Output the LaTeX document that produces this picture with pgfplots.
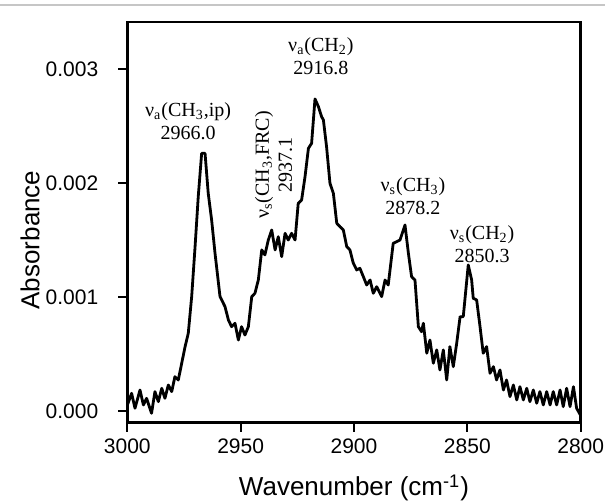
\documentclass[border=0pt]{standalone}
\usepackage{pgfplots}
\pgfplotsset{compat=1.18}
\usepackage{fontspec}
\setmainfont{Liberation Sans}
\newfontfamily\serif{Liberation Serif}

\pgfplotstableread{
x y
3000.0 0.000050
2998.1 0.000155
2996.6 0.000024
2994.4 0.000184
2992.9 0.000053
2991.5 0.000111
2989.3 -0.000020
2987.8 0.000170
2986.3 0.000082
2984.8 0.000199
2983.4 0.000111
2981.9 0.000228
2980.4 0.000170
2979.0 0.000301
2977.5 0.000272
2976.0 0.000419
2974.5 0.000565
2973.1 0.000682
2971.6 0.001004
2970.1 0.001443
2968.7 0.001882
2967.2 0.002262
2965.7 0.002262
2964.3 0.001911
2962.8 0.001677
2961.3 0.001384
2959.1 0.001004
2956.9 0.000916
2955.4 0.000799
2954.0 0.000740
2952.5 0.000770
2951.0 0.000623
2949.6 0.000740
2948.1 0.000667
2946.6 0.000740
2945.1 0.001004
2943.7 0.001033
2942.2 0.001150
2940.7 0.001414
2939.3 0.001370
2937.8 0.001501
2936.3 0.001589
2934.8 0.001414
2933.4 0.001530
2931.9 0.001355
2930.4 0.001560
2929.0 0.001501
2927.5 0.001560
2926.0 0.001501
2924.6 0.001823
2923.1 0.001853
2921.6 0.002057
2920.1 0.002306
2918.7 0.002350
2917.2 0.002740
2915.7 0.002672
2914.3 0.002584
2913.5 0.002555
2912.1 0.002320
2910.6 0.001999
2909.1 0.001911
2907.6 0.001648
2906.2 0.001618
2904.7 0.001589
2903.2 0.001443
2901.8 0.001414
2900.3 0.001297
2898.8 0.001238
2897.4 0.001253
2895.9 0.001180
2894.4 0.001106
2892.9 0.001150
2891.5 0.001033
2890.0 0.001091
2887.8 0.001004
2886.3 0.001150
2884.9 0.001106
2882.7 0.001472
2881.2 0.001486
2879.7 0.001501
2877.5 0.001633
2876.0 0.001384
2874.6 0.001179
2873.1 0.001150
2871.6 0.000740
2870.2 0.000696
2869.4 0.000770
2867.9 0.000507
2866.5 0.000623
2865.0 0.000419
2863.5 0.000536
2862.1 0.000360
2860.6 0.000536
2859.1 0.000272
2857.7 0.000565
2856.2 0.000389
2854.7 0.000594
2853.2 0.000828
2851.8 0.000828
2849.6 0.001282
2848.1 0.001150
2847.4 0.000989
2845.9 0.000975
2844.4 0.000740
2843.0 0.000507
2841.5 0.000565
2840.0 0.000331
2838.5 0.000389
2837.1 0.000272
2835.6 0.000360
2834.1 0.000184
2832.7 0.000272
2831.2 0.000126
2829.7 0.000228
2828.2 0.000097
2826.8 0.000213
2825.3 0.000097
2823.8 0.000199
2822.4 0.000082
2820.9 0.000184
2819.4 0.000068
2818.0 0.000170
2816.5 0.000053
2815.0 0.000170
2813.5 0.000053
2812.1 0.000170
2810.6 0.000053
2809.1 0.000184
2807.7 0.000038
2806.2 0.000199
2804.7 0.000038
2803.2 0.000213
2801.8 0.000024
2800.0 -0.000040
}\spectrum

\begin{document}
\begin{tikzpicture}
\begin{axis}[
  scale only axis, width=226.7pt, height=200.35pt,
  x dir=reverse, xmin=2800, xmax=3000, ymin=-0.000103, ymax=0.003415,
  xtick={2800,2850,2900,2950,3000}, xticklabels={2800,2850,2900,2950,3000},
  ytick={0,0.001,0.002,0.003}, yticklabels={0.000,0.001,0.002,0.003},
  scaled y ticks=false, scaled x ticks=false,
  tick align=outside, xtick pos=bottom, ytick pos=left,
  major tick length=4.5pt,
  tick style={line width=1.1pt, black},
  axis line style={line width=1.4pt},
  ticklabel style={font=\fontsize{10.5}{12}\selectfont},
  yticklabel style={xshift=-6.5pt},
  xlabel={Wavenumber (cm\textsuperscript{-1})},
  ylabel={Absorbance},
  label style={font=\fontsize{13}{15}\selectfont, inner sep=0pt},
  xlabel style={at={(axis description cs:0.5,-0.163)}, anchor=center},
  ylabel style={at={(axis description cs:-0.2146,0.456)}, anchor=center},
  clip mode=individual,
]
\addplot[black, line width=1.4pt, line join=round, no marks] table[x=x,y=y] {\spectrum};
\begin{scope}[every node/.style={font=\serif\fontsize{10}{11.5}\selectfont, align=center, inner sep=0pt}]
\node at (axis cs:2973.2,0.002542) {ν\textsubscript{a}(CH\textsubscript{3},ip)\\2966.0};
\node[rotate=90] at (axis cs:2935.5,0.00216) {ν\textsubscript{s}(CH\textsubscript{3},FRC)\\2937.1};
\node at (axis cs:2914.6,0.003117) {ν\textsubscript{a}(CH\textsubscript{2})\\2916.8};
\node at (axis cs:2874.0,0.001889) {ν\textsubscript{s}(CH\textsubscript{3})\\2878.2};
\node at (axis cs:2843.5,0.001466) {ν\textsubscript{s}(CH\textsubscript{2})\\2850.3};
\end{scope}
\coordinate (ll) at (rel axis cs:0,0);
\coordinate (ur) at (rel axis cs:1,1);
\end{axis}
\path (ll) ++(-63.65pt,-40.15pt) coordinate (bbA);
\path (ur) ++(12.15pt,11pt) coordinate (bbB);
\path (ur) ++(0,8.5pt) coordinate (tl);
\draw[gray!45, line width=0.6pt] (bbA |- tl) -- (bbB |- tl);
\pgfresetboundingbox
\path[use as bounding box] (bbA) rectangle (bbB);
\end{tikzpicture}
\end{document}
